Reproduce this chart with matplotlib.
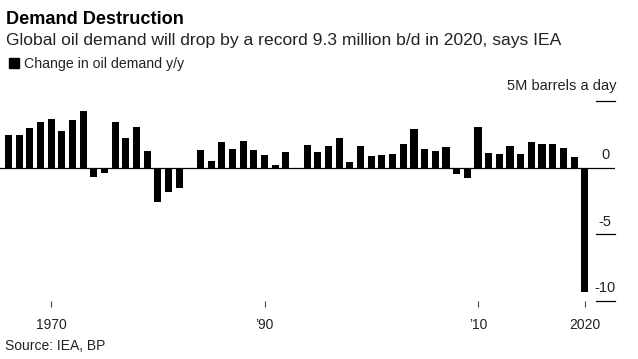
import matplotlib

matplotlib.use("Agg")
import matplotlib.pyplot as plt

plt.rcParams["font.family"] = ["Liberation Sans", "DejaVu Sans"]

years = list(range(1966, 2021))
change = [
    2.43, 2.43, 2.95, 3.40, 3.63, 2.73, 3.55, 4.23, -0.70, -0.40,
    3.40, 2.20, 3.03, 1.23, -2.58, -1.83, -1.53, -0.10, 1.30, 0.50,
    1.90, 1.38, 1.98, 1.30, 0.93, 0.18, 1.15, -0.10, 1.68, 1.15,
    1.60, 2.20, 0.40, 1.60, 0.85, 0.93, 1.00, 1.75, 2.88, 1.38,
    1.23, 1.53, -0.48, -0.78, 3.03, 1.08, 1.00, 1.60, 1.00, 1.90,
    1.75, 1.75, 1.45, 0.78, -9.30,
]
x_ticks = [1970, 1990, 2010, 2020]
x_labels = ["1970", "\u201990", "\u201910", "2020"]
y_ticks = [5, 0, -5, -10]
y_labels = ["5M barrels a day", "0", "-5", "-10"]

fig = plt.figure(figsize=(6.38, 3.59), dpi=100)
ax = fig.add_axes([0.0, 0.1616, 615 / 638, 200 / 359])

ax.bar(years, change, width=0.66, color="black", zorder=3)
ax.set_xlim(1965.2, 2022.84)
ax.set_ylim(-10, 5)

for side in ax.spines.values():
    side.set_visible(False)
ax.set_yticks([])
ax.set_xticks(x_ticks)
ax.set_xticklabels(x_labels, fontsize=10, color="#222222")
ax.tick_params(axis="x", length=4, width=0.8, color="#444444", pad=8)

ax.axhline(0, color="black", lw=0.9, zorder=2)
ytrans = ax.get_yaxis_transform()
for v in y_ticks:
    if v != 0:
        ax.plot([0.969, 1.0], [v, v], color="black", lw=0.9,
                transform=ytrans, clip_on=False)
for v, lab in zip(y_ticks, y_labels):
    if v == 5:
        ax.annotate(lab, (1.002, v), xycoords=ytrans, xytext=(0, 6),
                    textcoords="offset points", ha="right", va="bottom",
                    fontsize=10.5, color="#222222")
    else:
        ax.annotate(lab, (0.984, v), xycoords=ytrans, xytext=(0, 4),
                    textcoords="offset points", ha="center", va="bottom",
                    fontsize=10.5, color="#222222")

fig.text(6 / 638, 1 - 24 / 359, "Demand Destruction", fontsize=13.1,
         fontweight="bold", va="baseline", color="black")
fig.text(6 / 638, 1 - 45 / 359,
         "Global oil demand will drop by a record 9.3 million b/d in 2020, says IEA",
         fontsize=12.6, va="baseline", color="#222222")
fig.patches.append(plt.Rectangle((8.5 / 638, 1 - 68.3 / 359), 10 / 638, 10 / 359,
                                 transform=fig.transFigure, color="black"))
fig.text(24 / 638, 1 - 68.3 / 359, "Change in oil demand y/y", fontsize=10.2,
         va="baseline", color="#222222")
fig.text(5 / 638, 1 - 350 / 359, "Source: IEA, BP", fontsize=10,
         va="baseline", color="#222222")

fig.savefig("out.png", dpi=100)
